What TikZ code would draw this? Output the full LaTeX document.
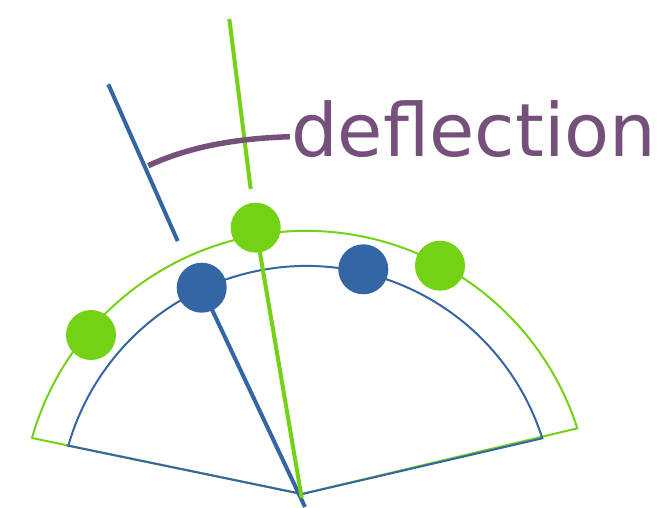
\documentclass[tikz,border=0pt]{standalone}
\usepackage{fontspec}
\newfontfamily\labelfont{DejaVu Sans}
\definecolor{tblue}{HTML}{3465A4}
\definecolor{tgreen}{HTML}{73D216}
\definecolor{tplum}{HTML}{75507B}
\begin{document}
\begin{tikzpicture}[x=1pt,y=-1pt,
  arcline/.style={line width=2pt, line join=miter},
  pointer/.style={line width=4pt},
  dot/.style={circle, inner sep=0pt, minimum size=50pt, draw=none},
  defl/.style={line width=5.5pt, color=tplum},
  lbl/.style={inner sep=0pt, anchor=base west, text=tplum, font=\labelfont\fontsize{73.6}{80}\selectfont},
]
\useasboundingbox (0,0) rectangle (658,508);
\coordinate (apex) at (302,494);
\coordinate (gl) at (32,438);
\coordinate (gr) at (577.3,428.3);
\coordinate (bl) at (68.3,445.7);
\coordinate (br) at (542.3,438.3);
% sectors
\draw[arcline, tgreen] (gl) -- (apex) -- (gr) arc[start angle=17.90, end angle=164.13, radius=285pt] -- cycle;
\draw[arcline, tblue] (bl) -- (apex) -- (br) arc[start angle=17.70, end angle=164.08, radius=247.6pt] -- cycle;
% beads
\node[dot, fill=tgreen] (g1) at (91,335) {};
\node[dot, fill=tgreen] (g2) at (255.7,227.7) {};
\node[dot, fill=tgreen] (g3) at (440,265.7) {};
\node[dot, fill=tblue] (b1) at (201.7,287.7) {};
\node[dot, fill=tblue] (b2) at (363.3,269.3) {};
% pointers
\coordinate (bfoot) at (305,507);
\coordinate (gfoot) at (301.7,498);
\draw[pointer, tblue] (bfoot) -- (b1.center);
\draw[pointer, tgreen] (gfoot) -- (g2.center);
% extensions
\coordinate (bt1) at (108.3,84.3);
\coordinate (bt2) at (177.7,241);
\coordinate (gt1) at (229.3,19);
\coordinate (gt2) at (250.7,189);
\draw[pointer, tblue] (bt1) -- (bt2);
\draw[pointer, tgreen] (gt1) -- (gt2);
% deflection label
\node[lbl] (label) at (291,156) {deflection};
\coordinate (ds) at (148.3,165.7);
\coordinate (de) at (290,136.7);
\draw[defl] (ds) .. controls (192.4,145.1) and (241.3,138.3) .. (de);
\end{tikzpicture}
\end{document}
